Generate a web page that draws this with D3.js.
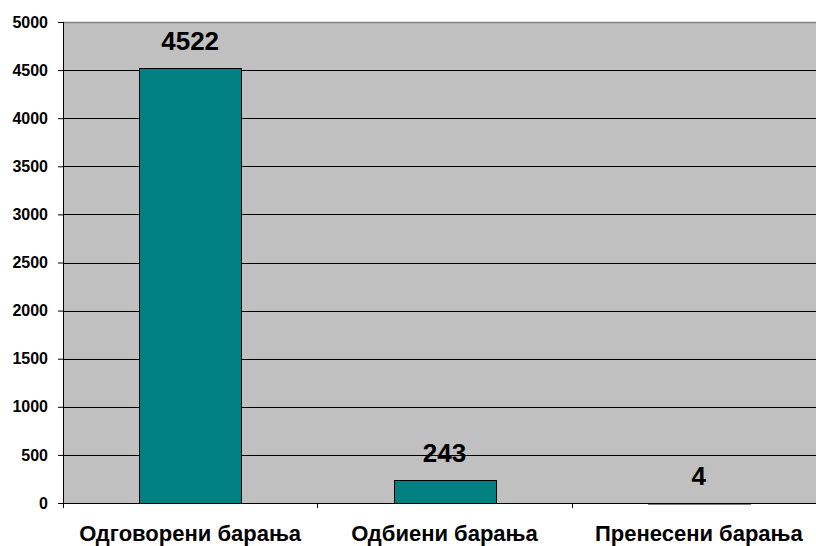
<!DOCTYPE html>
<html>
<head>
<meta charset="utf-8">
<script src="https://cdn.jsdelivr.net/npm/d3@7"></script>
<style>
  body { margin: 0; background: #fff; }
  svg { display: block; font-family: Arial, "Liberation Sans", sans-serif; }
</style>
</head>
<body>
<div id="chart"></div>
<script>
var categories = ["Одговорени барања", "Одбиени барања", "Пренесени барања"];
var values = [4522, 243, 4];
var yTicks = [0, 500, 1000, 1500, 2000, 2500, 3000, 3500, 4000, 4500, 5000];

var margin = {top: 22, right: -10, bottom: 43, left: 63},
    width = 816 - margin.left - margin.right,
    height = 546 - margin.top - margin.bottom;

var svg = d3.select("#chart").append("svg")
    .attr("width", 816).attr("height", 546)
  .append("g")
    .attr("transform", "translate(" + margin.left + "," + margin.top + ")");

var x = d3.scaleBand().domain(categories).range([0, width]).padding(0);
var y = d3.scaleLinear().domain([0, 5000]).range([height, 0]);

// plot background
svg.append("rect").attr("x", 0).attr("y", 0).attr("width", width).attr("height", height)
  .style("fill", "#c0c0c0");

// gridlines
svg.selectAll(".grid").data(yTicks.filter(function(d) { return d > 0; })).enter().append("line")
  .attr("x1", 0).attr("x2", width)
  .attr("y1", function(d) { return Math.round(y(d)) + 0.5; })
  .attr("y2", function(d) { return Math.round(y(d)) + 0.5; })
  .style("stroke", function(d) { return d == 5000 ? "#808080" : "#000"; })
  .style("stroke-width", function(d) { return d == 5000 ? 1.5 : 1; });

// bars
var barW = x.bandwidth() * 0.4;
svg.selectAll(".bar").data(values).enter().append("rect")
  .attr("x", function(d, i) { return Math.round(x(categories[i]) + (x.bandwidth() - barW) / 2) + 0.5; })
  .attr("y", function(d) { return Math.round(y(d)) + 0.5; })
  .attr("width", Math.round(barW))
  .attr("height", function(d) { return Math.max(0.5, Math.round(height - y(d))); })
  .style("fill", "#008080").style("stroke", "#000").style("stroke-width", 1);

// value labels
svg.selectAll(".lbl").data(values).enter().append("text")
  .attr("x", function(d, i) { return x(categories[i]) + x.bandwidth() / 2; })
  .attr("y", function(d) { return y(d) - 18; })
  .attr("text-anchor", "middle")
  .style("font-size", "26px").style("font-weight", "bold")
  .text(function(d) { return d; });

// y axis
var yAxis = svg.append("g").call(d3.axisLeft(y).tickValues(yTicks).tickFormat(d3.format("d")).tickSize(5).tickPadding(10));
yAxis.select(".domain").remove();
yAxis.selectAll("line").style("stroke", "#000");
yAxis.selectAll("text").style("font-size", "16px").style("font-weight", "bold")
  .style("font-family", "Arial, 'Liberation Sans', sans-serif").attr("fill", "#000");
svg.append("line").attr("x1", 0.5).attr("x2", 0.5).attr("y1", 0).attr("y2", height + 5).style("stroke", "#000");

// x axis
var xAxis = svg.append("g").attr("transform", "translate(0," + height + ")")
  .call(d3.axisBottom(x).tickSize(0).tickPadding(22));
xAxis.select(".domain").remove();
xAxis.selectAll("text").style("font-size", "22px").style("font-weight", "bold")
  .style("font-family", "Arial, 'Liberation Sans', sans-serif").attr("fill", "#000");
svg.append("line").attr("x1", 0).attr("x2", width).attr("y1", height + 0.5).attr("y2", height + 0.5).style("stroke", "#000");
svg.selectAll(".xt").data(categories).enter().append("line")
  .attr("x1", function(d) { return Math.round(x(d) + x.bandwidth()) + 0.5; })
  .attr("x2", function(d) { return Math.round(x(d) + x.bandwidth()) + 0.5; })
  .attr("y1", height).attr("y2", height + 5).style("stroke", "#000");
</script>
</body>
</html>
